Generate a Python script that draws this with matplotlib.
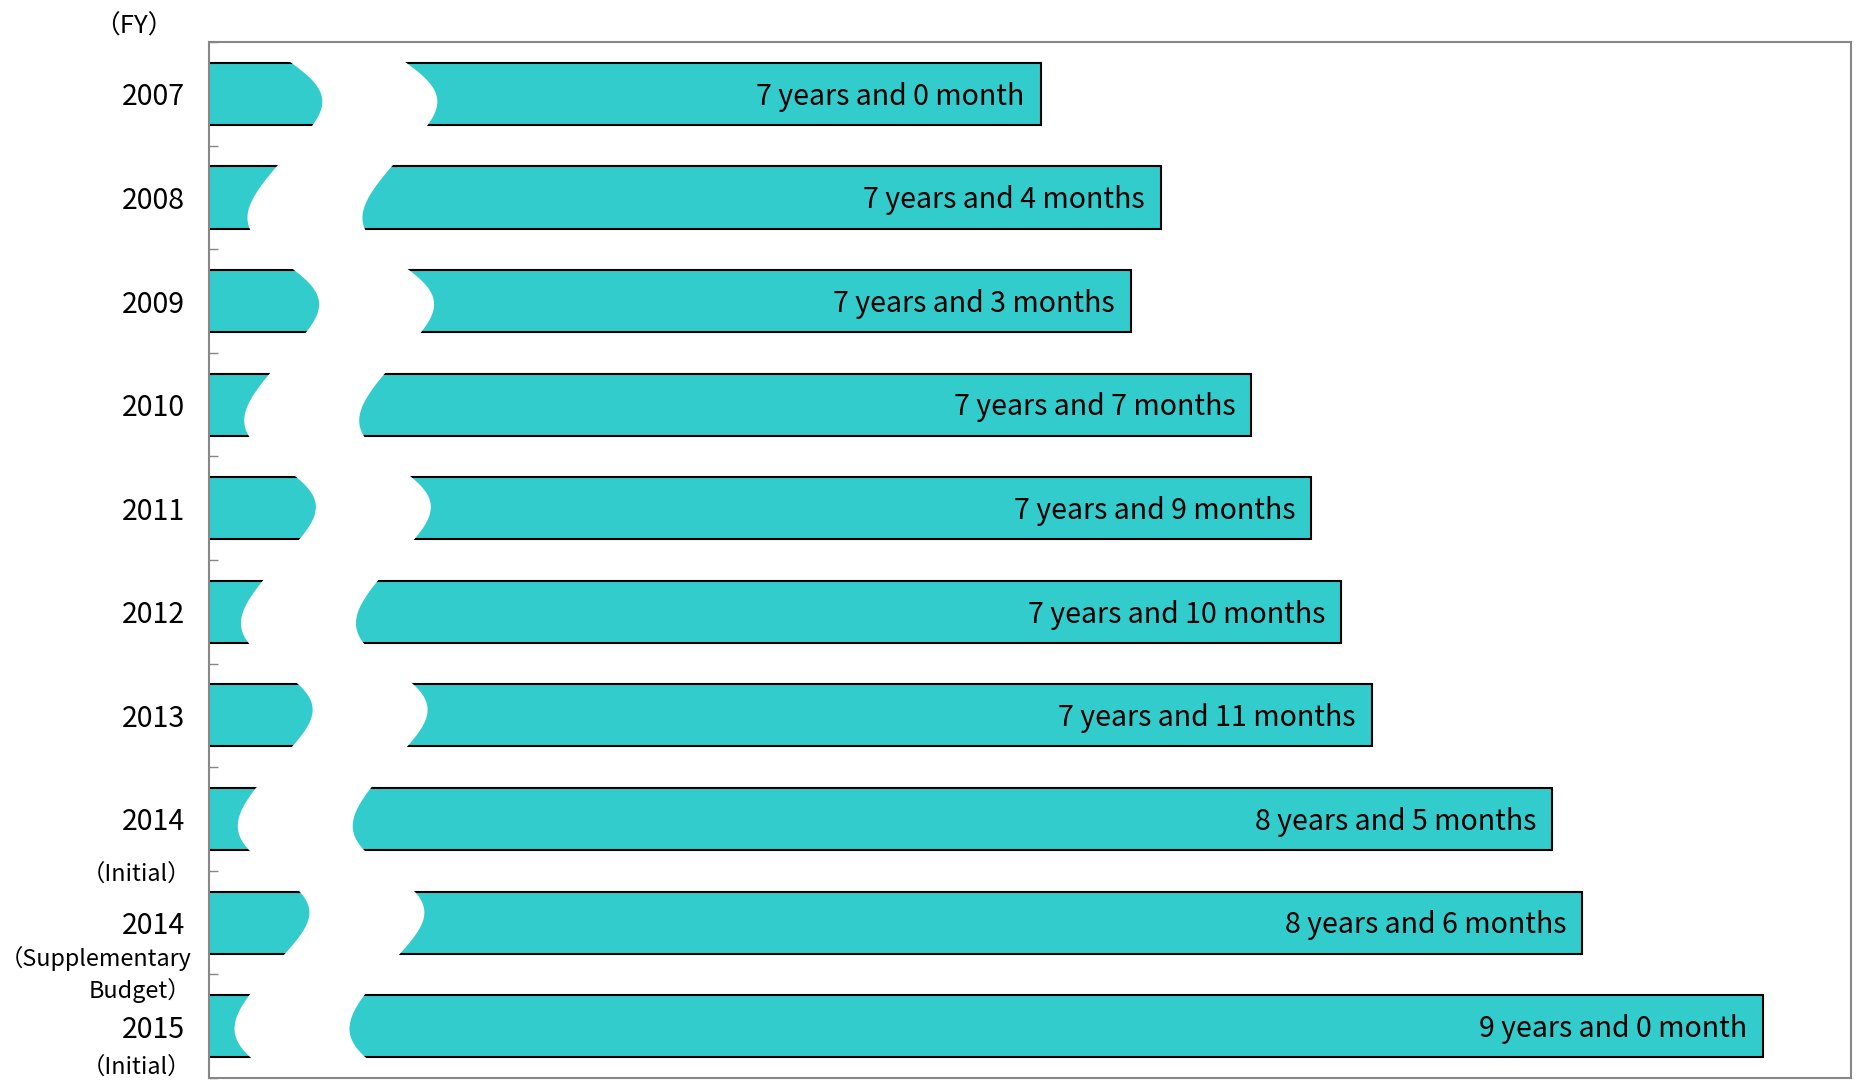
import numpy as np
import matplotlib.pyplot as plt

plt.rcParams['font.family'] = ['Noto Sans CJK JP', 'DejaVu Sans']

# fiscal years and the length in months shown by each bar
years = ["2007", "2008", "2009", "2010", "2011", "2012", "2013", "2014", "2014", "2015"]
months = [84, 88, 87, 91, 93, 94, 95, 101, 102, 108]
bar_labels = ["7 years and 0 month", "7 years and 4 months", "7 years and 3 months",
              "7 years and 7 months", "7 years and 9 months", "7 years and 10 months",
              "7 years and 11 months", "8 years and 5 months", "8 years and 6 months",
              "9 years and 0 month"]
# extra notes under some of the year labels: (row, text, vertical offset)
notes = [(7, "（Initial）", 0.54),
         (8, "（Supplementary", 0.35),
         (8, "Budget）", 0.66),
         (9, "（Initial）", 0.41)]

teal = "#33CCCC"
grey = "#878787"

fig = plt.figure(figsize=(18.72, 10.81), dpi=100)
ax = fig.add_axes([0.1116, 0.0028, 0.8772, 0.9583])

pos = np.arange(len(years))
ax.barh(pos, months, height=0.6, color=teal, edgecolor="black", linewidth=1.5, zorder=1)

ax.set_xlim(56.37, 110.93)
ax.set_ylim(len(years) - 0.5, -0.5)

# wavy white band that "breaks" all the bars
yy = np.linspace(-0.5, len(years) - 0.5, 800)
period, trough, skew = 1.957, 1.192, 0.2273
phi = 2 * np.pi * (yy - trough) / period
psi = phi + skew * (1 - np.cos(phi))
left_edge = 58.90 - 0.055 * (yy - 0.54) - 1.213 * np.cos(psi)
right_edge = left_edge + 3.82
ax.fill(np.concatenate([left_edge, right_edge[::-1]]),
        np.concatenate([yy, yy[::-1]]),
        color="white", lw=0, zorder=1.5)

for i, (m, lab) in enumerate(zip(months, bar_labels)):
    ax.annotate(lab, (m, i), xytext=(-11.5, -2), textcoords="offset points",
                ha="right", va="center", fontsize=20.5, zorder=3)

ax.set_xticks([])
ax.set_yticks(pos, years, fontsize=20.5)
ax.tick_params(axis="y", which="major", length=0, pad=17)
ax.set_yticks(np.arange(-0.5, len(years), 1), minor=True)
ax.tick_params(axis="y", which="minor", direction="in", length=6.5, width=1, color=grey)

for sp in ax.spines.values():
    sp.set_color(grey)
    sp.set_linewidth(1.5)

ytrans = ax.get_yaxis_transform()
for row, txt, off in notes:
    ax.text(-0.0105, row + off, txt, transform=ytrans, ha="right", va="center", fontsize=16.8)

fig.text(134 / 1872, 1 - 27 / 1081, "（FY）", ha="center", va="center", fontsize=18.5)

fig.savefig("out.png", dpi=100)
